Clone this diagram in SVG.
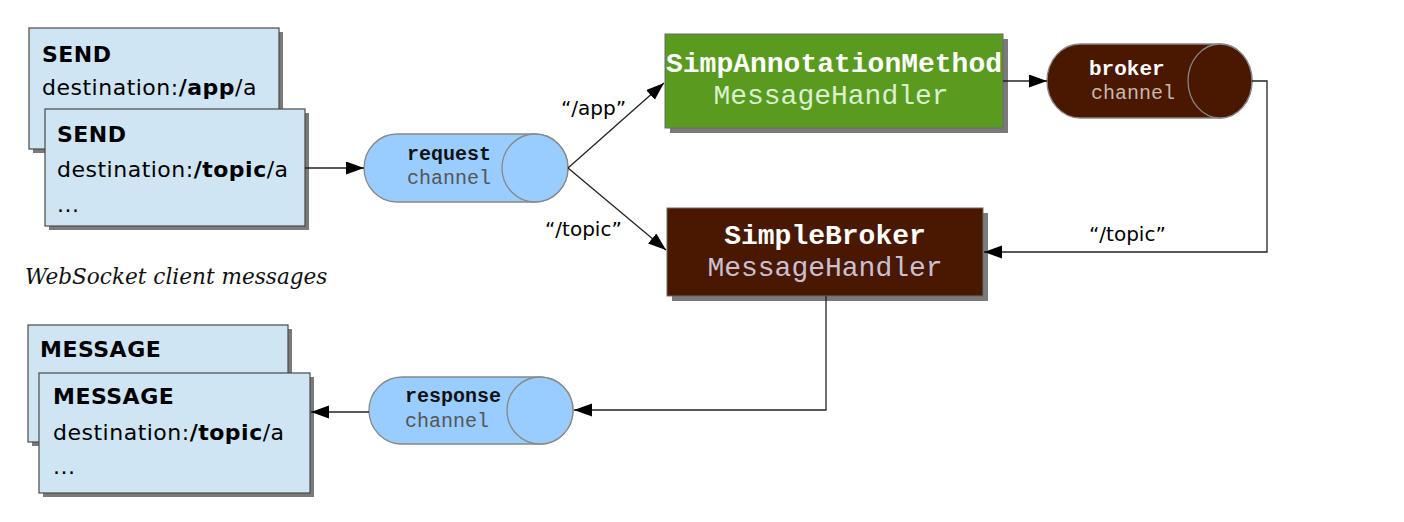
<svg xmlns="http://www.w3.org/2000/svg" width="1404" height="522" viewBox="0 0 1404 522">
<style>
.box{fill:#cfe5f3;stroke:#4a4a4a;stroke-width:1.2}
.shadow{fill:#7a7a7a}
.msg{font-family:"DejaVu Sans",sans-serif;font-size:22px;letter-spacing:0.5px;fill:#000}
.b{font-weight:bold}
.lbl{font-family:"DejaVu Sans",sans-serif;font-size:20px;fill:#000}
.mono{font-family:"Liberation Mono",monospace}
.conn{fill:none;stroke:#222;stroke-width:1.3}
.cylb{fill:#99ccff;stroke:#888;stroke-width:1.3}
.cyld{fill:#4a1800;stroke:#888;stroke-width:1.3}
</style>
<defs>
<marker id="ah" markerWidth="20" markerHeight="14" refX="18" refY="6.5" orient="auto" markerUnits="userSpaceOnUse">
<path d="M0,0 L18,6.5 L0,13 z" fill="#000"/>
</marker>
</defs>
<rect width="1404" height="522" fill="#fff"/>

<g id="send1">
<rect class="shadow" x="33" y="32" width="250" height="121"/>
<rect class="box" x="29" y="28" width="250" height="121"/>
<text class="msg b" x="42" y="62">SEND</text>
<text class="msg" x="42" y="95">destination:<tspan class="b">/app</tspan>/a</text>
</g>
<g id="send2">
<rect class="shadow" x="49" y="113" width="260" height="117"/>
<rect class="box" x="45" y="109" width="260" height="117"/>
<text class="msg b" x="57" y="142">SEND</text>
<text class="msg" x="57" y="177">destination:<tspan class="b">/topic</tspan>/a</text>
<text class="msg" x="57" y="212">...</text>
</g>

<text id="caption" x="25" y="284" font-family="DejaVu Serif,serif" font-style="italic" font-size="21.6" fill="#111">WebSocket client messages</text>

<g id="message1">
<rect class="shadow" x="32" y="329" width="260" height="117"/>
<rect class="box" x="28" y="325" width="260" height="117"/>
<text class="msg b" x="40" y="357">MESSAGE</text>
</g>
<g id="message2">
<rect class="shadow" x="43" y="377" width="271" height="120"/>
<rect class="box" x="39" y="373" width="271" height="120"/>
<text class="msg b" x="53" y="404">MESSAGE</text>
<text class="msg" x="53" y="440">destination:<tspan class="b">/topic</tspan>/a</text>
<text class="msg" x="53" y="474">...</text>
</g>

<g id="request-channel">
<path class="cylb" d="M397,134 L535,134 A33,34 0 0 1 535,202 L397,202 A33,34 0 0 1 397,134 Z"/>
<ellipse class="cylb" cx="535" cy="168" rx="33" ry="34"/>
<text class="mono" x="407" y="160" font-size="20" font-weight="bold" fill="#111">request</text>
<text class="mono" x="407" y="184" font-size="20" fill="#555">channel</text>
</g>

<g id="annotation-handler">
<rect class="shadow" x="670" y="39" width="338" height="94"/>
<rect x="665" y="34" width="338" height="94" fill="#589b1e" stroke="#6a6a6a" stroke-width="1"/>
<text class="mono" x="834" y="72" font-size="28" font-weight="bold" fill="#ffffff" text-anchor="middle">SimpAnnotationMethod</text>
<text class="mono" x="831" y="104" font-size="28" fill="#dcefcf" text-anchor="middle">MessageHandler</text>
</g>

<g id="broker-channel">
<path class="cyld" d="M1080,44 L1220,44 A32,37 0 0 1 1220,118 L1080,118 A33,37 0 0 1 1080,44 Z"/>
<ellipse class="cyld" cx="1220" cy="81" rx="32" ry="37"/>
<text class="mono" x="1089" y="75" font-size="21" font-weight="bold" fill="#ffffff">broker</text>
<text class="mono" x="1091" y="99" font-size="20" fill="#c9b8a8">channel</text>
</g>

<g id="simple-broker">
<rect class="shadow" x="672" y="213" width="316" height="88"/>
<rect x="667" y="208" width="316" height="88" fill="#4a1800" stroke="#6a6a6a" stroke-width="1"/>
<text class="mono" x="825" y="244" font-size="28" font-weight="bold" fill="#ffffff" text-anchor="middle">SimpleBroker</text>
<text class="mono" x="825" y="276" font-size="28" fill="#c9c0d0" text-anchor="middle">MessageHandler</text>
</g>

<g id="response-channel">
<path class="cylb" d="M402,377 L540,377 A33,33.5 0 0 1 540,444 L402,444 A33,33.5 0 0 1 402,377 Z"/>
<ellipse class="cylb" cx="540" cy="410.5" rx="33" ry="33.5"/>
<text class="mono" x="405" y="402" font-size="20" font-weight="bold" fill="#111">response</text>
<text class="mono" x="405" y="427" font-size="20" fill="#555">channel</text>
</g>

<g id="connectors">
<line class="conn" x1="305" y1="168" x2="364" y2="168" marker-end="url(#ah)"/>
<line class="conn" x1="568" y1="168" x2="664" y2="83" marker-end="url(#ah)"/>
<line class="conn" x1="568" y1="168" x2="666" y2="250" marker-end="url(#ah)"/>
<line class="conn" x1="1003" y1="81" x2="1047" y2="81" marker-end="url(#ah)"/>
<polyline class="conn" points="1252,81 1267,81 1267,252 984,252" marker-end="url(#ah)"/>
<polyline class="conn" points="826,296 826,410 574,410" marker-end="url(#ah)"/>
<line class="conn" x1="369" y1="412" x2="311" y2="412" marker-end="url(#ah)"/>
<text class="lbl" x="561" y="115">“/app”</text>
<text class="lbl" x="545" y="236">“/topic”</text>
<text class="lbl" x="1089" y="241">“/topic”</text>
</g>
</svg>
